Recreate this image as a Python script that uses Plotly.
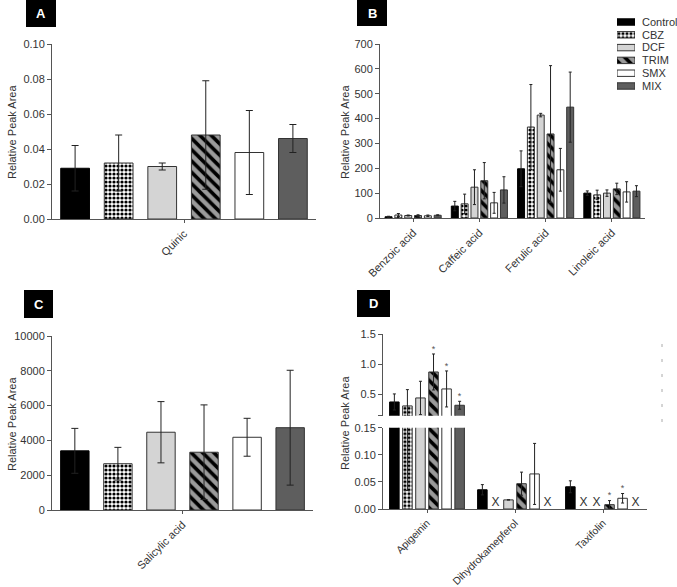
import plotly.graph_objects as go

W, H = 677, 587

groups = ["Control", "CBZ", "DCF", "TRIM", "SMX", "MIX"]

# ---- Panel A: Quinic ----
a_cats = ["Quinic"]
quinic_mean = [0.029, 0.032, 0.030, 0.048, 0.038, 0.046]
quinic_sd = [0.013, 0.016, 0.002, 0.031, 0.024, 0.008]

# ---- Panel B ----
b_cats = ["Benzoic acid", "Caffeic acid", "Ferulic acid", "Linoleic acid"]
b_control = [5, 48, 198, 100]
b_cbz = [12, 57, 366, 93]
b_dcf = [10, 124, 414, 100]
b_trim = [10, 150, 338, 117]
b_smx = [9, 61, 194, 105]
b_mix = [11, 113, 446, 108]
b_control_sd = [2, 19, 72, 9]
b_cbz_sd = [6, 39, 171, 19]
b_dcf_sd = [2, 70, 7, 13]
b_trim_sd = [3, 73, 275, 23]
b_smx_sd = [3, 42, 86, 41]
b_mix_sd = [2, 53, 141, 22]

# ---- Panel C: Salicylic acid ----
c_cats = ["Salicylic acid"]
salicylic_mean = [3400, 2660, 4470, 3320, 4180, 4730]
salicylic_sd = [1290, 940, 1760, 2720, 1090, 3300]

# ---- Panel D ----
d_cats = ["Apigeinin", "Dihydrokamepferol", "Taxifolin"]
d_control = [0.372, 0.0355, 0.041]
d_cbz = [0.306, None, None]
d_dcf = [0.439, 0.0168, None]
d_trim = [0.872, 0.0467, 0.008]
d_smx = [0.589, 0.0647, 0.0198]
d_mix = [0.317, None, None]
d_control_sd = [0.134, 0.0095, 0.011]
d_cbz_sd = [0.272, 0, 0]
d_dcf_sd = [0.278, 0, 0]
d_trim_sd = [0.300, 0.0213, 0.0075]
d_smx_sd = [0.300, 0.0563, 0.0088]
d_mix_sd = [0.066, 0, 0]
d_control_sig = [0, 0, 0]
d_cbz_sig = [0, 0, 0]
d_dcf_sig = [0, 0, 0]
d_trim_sig = [1, 0, 1]
d_smx_sig = [1, 0, 1]
d_mix_sig = [1, 0, 0]

b_means = [b_control, b_cbz, b_dcf, b_trim, b_smx, b_mix]
b_sds = [b_control_sd, b_cbz_sd, b_dcf_sd, b_trim_sd, b_smx_sd, b_mix_sd]
d_means = [d_control, d_cbz, d_dcf, d_trim, d_smx, d_mix]
d_sds = [d_control_sd, d_cbz_sd, d_dcf_sd, d_trim_sd, d_smx_sd, d_mix_sd]
d_sigs = [d_control_sig, d_cbz_sig, d_dcf_sig, d_trim_sig, d_smx_sig, d_mix_sig]

FONT = "Liberation Sans, Arial, sans-serif"
TXT = "#333333"
AXC = "#555555"
ERRC = "#222222"

STYLE = {
    "Control": dict(color="black", pattern=dict(shape="")),
    "CBZ": dict(color="white", pattern=dict(shape=".", fgcolor="black", bgcolor="white",
                                            size=4, solidity=0.5, fillmode="replace")),
    "DCF": dict(color="#d4d4d4", pattern=dict(shape="")),
    "TRIM": dict(color="#9a9a9a", pattern=dict(shape="\\", fgcolor="black", bgcolor="#9a9a9a",
                                               size=8, solidity=0.45, fillmode="replace")),
    "SMX": dict(color="white", pattern=dict(shape="")),
    "MIX": dict(color="#5e5e5e", pattern=dict(shape="")),
}


def px(x):
    return x / W


def py(y):
    return 1 - y / H


def geom(i, group_frac, bar_frac):
    slot = group_frac / len(groups)
    width = slot * bar_frac
    offset = -group_frac / 2 + i * slot + (slot - width) / 2
    return offset, width, offset + width / 2


fig = go.Figure()


def add_bars(means, sds, ncat, xa, ya, gf, bf, cap):
    for i, g in enumerate(groups):
        off, wd, _ = geom(i, gf, bf)
        st = STYLE[g]
        fig.add_trace(go.Bar(
            x=list(range(ncat)), y=means[i], offset=off, width=wd,
            xaxis=xa, yaxis=ya, showlegend=False, name=g,
            marker=dict(color=st["color"], pattern=st["pattern"],
                        line=dict(color="black" if g == "Control" else "#333333", width=1)),
            error_y=dict(type="data", array=sds[i], symmetric=True, color=ERRC,
                         thickness=1, width=cap),
        ))


# Panel A
add_bars([[v] for v in quinic_mean], [[v] for v in quinic_sd], 1, "x", "y", 0.99, 0.66, 3.5)
# Panel B
add_bars(b_means, b_sds, len(b_cats), "x2", "y2", 0.89, 0.71, 1.5)
# Panel C
add_bars([[v] for v in salicylic_mean], [[v] for v in salicylic_sd], 1, "x3", "y3", 0.99, 0.66, 3.5)
# Panel D (lower and upper segments of the broken axis)
add_bars(d_means, d_sds, len(d_cats), "x4", "y4", 0.89, 0.73, 1.5)
add_bars(d_means, d_sds, len(d_cats), "x4", "y5", 0.89, 0.73, 1.5)

UPPER_MIN = 0.143
LOWER_MAX = 0.15

# Significance stars and missing-value "X" marks in D
for i, g in enumerate(groups):
    _, _, ctr = geom(i, 0.89, 0.73)
    for j in range(len(d_cats)):
        m = d_means[i][j]
        if m is None:
            fig.add_trace(go.Scatter(x=[j + ctr], y=[0], mode="text", text=["X"],
                                     textposition="top center", xaxis="x4", yaxis="y4",
                                     textfont=dict(size=12, color=TXT, family=FONT),
                                     showlegend=False, hoverinfo="skip"))
        elif d_sigs[i][j]:
            top = m + d_sds[i][j]
            ya = "y5" if top > LOWER_MAX else "y4"
            fig.add_trace(go.Scatter(x=[j + ctr], y=[top], mode="text", text=["*"],
                                     textposition="top center", xaxis="x4", yaxis=ya,
                                     textfont=dict(size=9, color="#555555", family=FONT),
                                     showlegend=False, hoverinfo="skip", cliponaxis=False))

# Legend built as a tiny horizontal bar chart
for i, g in enumerate(groups):
    st = STYLE[g]
    fig.add_trace(go.Bar(
        x=[1], y=[i], orientation="h", width=0.5, base=0, xaxis="x6", yaxis="y6",
        showlegend=False, hoverinfo="skip",
        marker=dict(color=st["color"], pattern=st["pattern"],
                    line=dict(color="black" if g == "Control" else "#333333", width=1)),
    ))

tickfont = dict(family=FONT, size=11, color=TXT)
common_y = dict(showline=True, linecolor=AXC, linewidth=1, ticks="outside", ticklen=4,
                tickcolor=AXC, showgrid=False, zeroline=False, tickfont=tickfont,
                automargin=False)
common_x = dict(showline=True, linecolor=AXC, linewidth=1, ticks="outside", ticklen=3,
                tickcolor=AXC, showgrid=False, zeroline=False,
                tickangle=-45, automargin=False)

fig.update_layout(
    width=W, height=H, margin=dict(l=0, r=0, t=0, b=0, autoexpand=False),
    paper_bgcolor="white", plot_bgcolor="white", barmode="overlay",
    showlegend=False, font=dict(family=FONT, color=TXT),
    xaxis=dict(domain=[px(52), px(316)], anchor="y", range=[-0.5, 0.5],
               tickvals=list(range(len(a_cats))), ticktext=a_cats, tickfont=tickfont, **common_x),
    yaxis=dict(domain=[py(219), py(44)], anchor="x", range=[0, 0.10],
               tickvals=[0, 0.02, 0.04, 0.06, 0.08, 0.10], tickformat=".2f", **common_y),
    xaxis2=dict(domain=[px(380), px(645)], anchor="y2", range=[-0.5, 3.5],
                tickvals=list(range(len(b_cats))), ticktext=b_cats, tickfont=tickfont, **common_x),
    yaxis2=dict(domain=[py(218), py(44)], anchor="x2", range=[0, 700], dtick=100, **common_y),
    xaxis3=dict(domain=[px(52), px(313)], anchor="y3", range=[-0.5, 0.5],
                tickvals=list(range(len(c_cats))), ticktext=c_cats, tickfont=tickfont, **common_x),
    yaxis3=dict(domain=[py(510), py(336)], anchor="x3", range=[0, 10000], dtick=2000,
                tickformat="d", **common_y),
    xaxis4=dict(domain=[px(383), px(647)], anchor="y4", range=[-0.5, 2.5],
                tickvals=list(range(len(d_cats))), ticktext=d_cats,
                tickfont=dict(family=FONT, size=10.4, color=TXT), **common_x),
    yaxis4=dict(domain=[py(509), py(427.7)], anchor="x4", range=[0, LOWER_MAX],
                tickvals=[0, 0.05, 0.10, 0.15], tickformat=".2f", **common_y),
    yaxis5=dict(domain=[py(415.7), py(334.3)], anchor="x4", range=[UPPER_MIN, 1.5],
                tickvals=[UPPER_MIN, 0.5, 1.0, 1.5], ticktext=["", "0.5", "1.0", "1.5"], **common_y),
    xaxis6=dict(domain=[px(617), px(635)], anchor="y6", range=[0, 1], visible=False),
    yaxis6=dict(domain=[py(92.4), py(15.6)], anchor="x6", range=[5.5, -0.5], side="right",
                tickvals=list(range(len(groups))), ticktext=groups, showline=False,
                ticks="", showgrid=False, zeroline=False, ticklabelstandoff=6,
                automargin=False, tickfont=dict(family=FONT, size=11, color=TXT)),
)

# Panel letters
for letter, (x0, x1, y0, y1) in {"A": (26, 56, 0, 27), "B": (357, 387, 0, 26),
                                  "C": (24, 53, 290, 318), "D": (357, 390, 290, 317)}.items():
    fig.add_shape(type="rect", xref="paper", yref="paper", x0=px(x0), x1=px(x1),
                  y0=py(y1), y1=py(y0), fillcolor="black", line=dict(width=0))
    fig.add_annotation(xref="paper", yref="paper", x=px((x0 + x1) / 2), y=py((y0 + y1) / 2),
                       xanchor="center", yanchor="middle",
                       text="<b>%s</b>" % letter, showarrow=False,
                       font=dict(family=FONT, size=13, color="white"))

# Y-axis titles
for (xc, yc) in [(12, 132), (345, 132), (12, 424), (345, 423)]:
    fig.add_annotation(xref="paper", yref="paper", x=px(xc), y=py(yc), text="Relative Peak Area",
                       xanchor="center", yanchor="middle",
                       textangle=-90, showarrow=False,
                       font=dict(family=FONT, size=11, color=TXT))

# stray dashed line at right of panel D (present in the original figure)
fig.add_shape(type="line", xref="paper", yref="paper", x0=px(662), x1=px(662),
              y0=py(422), y1=py(340), line=dict(color="#aaaaaa", width=1, dash="3px,12px"))

fig.write_html("out.html")
